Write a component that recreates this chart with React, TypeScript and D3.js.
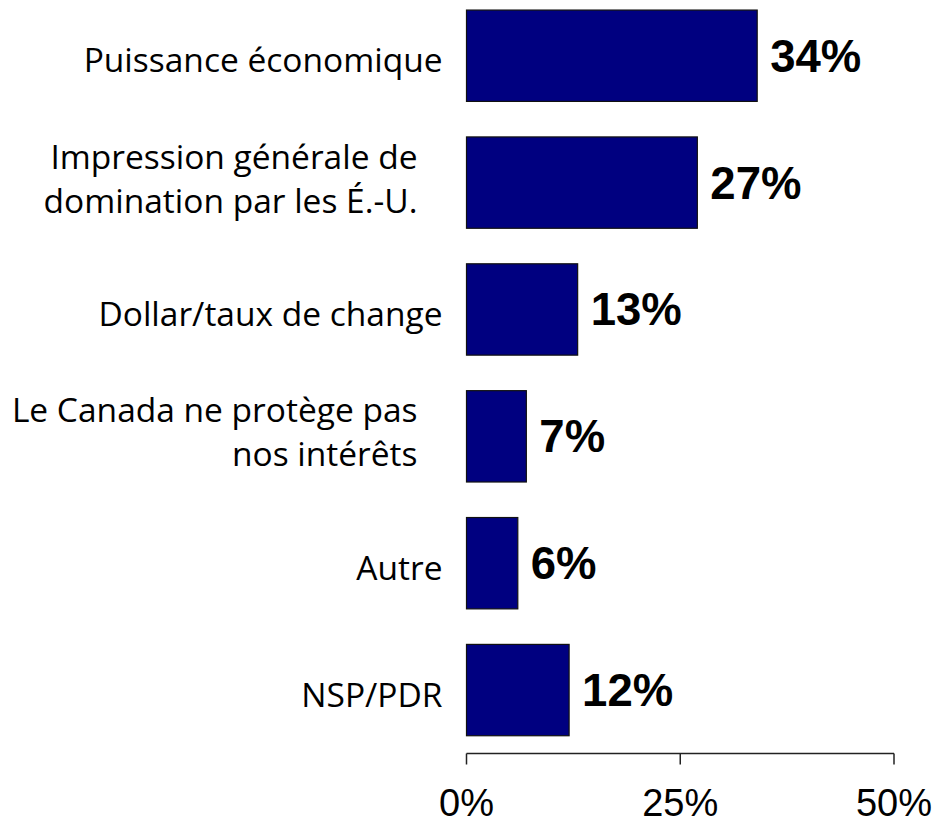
import React from "react";
import * as d3 from "d3";

const categories: string[][] = [
  ["Puissance économique"],
  ["Impression générale de", "domination par les É.-U."],
  ["Dollar/taux de change"],
  ["Le Canada ne protège pas", "nos intérêts"],
  ["Autre"],
  ["NSP/PDR"],
];
const values: number[] = [34, 27, 13, 7, 6, 12];
const tickValues: number[] = [0, 25, 50];
const tickLabels: string[] = ["0%", "25%", "50%"];

const W = 938;
const H = 823;

export default function App() {
  const x = d3.scaleLinear().domain([0, 50]).range([466.5, 894]);
  const ids = categories.map((_, i) => String(i));
  const y = d3
    .scaleBand<string>()
    .domain(ids)
    .range([-7.7, 753.5])
    .paddingInner(0.28)
    .paddingOuter(0.14);
  const axisY = 753.5;
  const catFont = "'Open Sans', 'Noto Sans', sans-serif";
  const numFont = "'Liberation Sans', Arial, sans-serif";
  const catSize = 33.5;
  const lineH = 44;

  return (
    <svg
      width={W}
      height={H}
      style={{ position: "fixed", left: 0, top: 0, background: "#fff" }}
    >
      {values.map((v, i) => {
        const y0 = y(ids[i])!;
        const bw = y.bandwidth();
        const cy = y0 + bw / 2;
        const lines = categories[i];
        const multi = lines.length > 1;
        const lx = multi ? x(0) - 49 : x(0) - 24;
        const firstBase = cy + (multi ? 8 : 16.5) - ((lines.length - 1) * lineH) / 2;
        return (
          <g key={i}>
            <rect
              x={x(0)}
              y={y0}
              width={x(v) - x(0)}
              height={bw}
              fill="#000080"
              stroke="#111"
              strokeWidth={1.2}
            />
            <text
              x={x(v) + 13}
              y={cy + 16}
              fontFamily={numFont}
              fontWeight="bold"
              fontSize={45.5}
              fill="#000"
            >
              {v}%
            </text>
            {lines.map((ln, j) => (
              <text
                key={j}
                x={lx}
                y={firstBase + j * lineH}
                textAnchor="end"
                fontFamily={catFont}
                fontSize={catSize}
                fill="#000"
              >
                {ln}
              </text>
            ))}
          </g>
        );
      })}
      <line
        x1={x(0)}
        x2={x(50)}
        y1={axisY}
        y2={axisY}
        stroke="#222"
        strokeWidth={1.5}
      />
      {tickValues.map((t, i) => (
        <g key={t}>
          <line
            x1={x(t)}
            x2={x(t)}
            y1={axisY}
            y2={axisY + 11}
            stroke="#222"
            strokeWidth={1.5}
          />
          <text
            x={x(t)}
            y={816}
            textAnchor="middle"
            fontFamily={numFont}
            fontSize={38}
            fill="#000"
          >
            {tickLabels[i]}
          </text>
        </g>
      ))}
    </svg>
  );
}
